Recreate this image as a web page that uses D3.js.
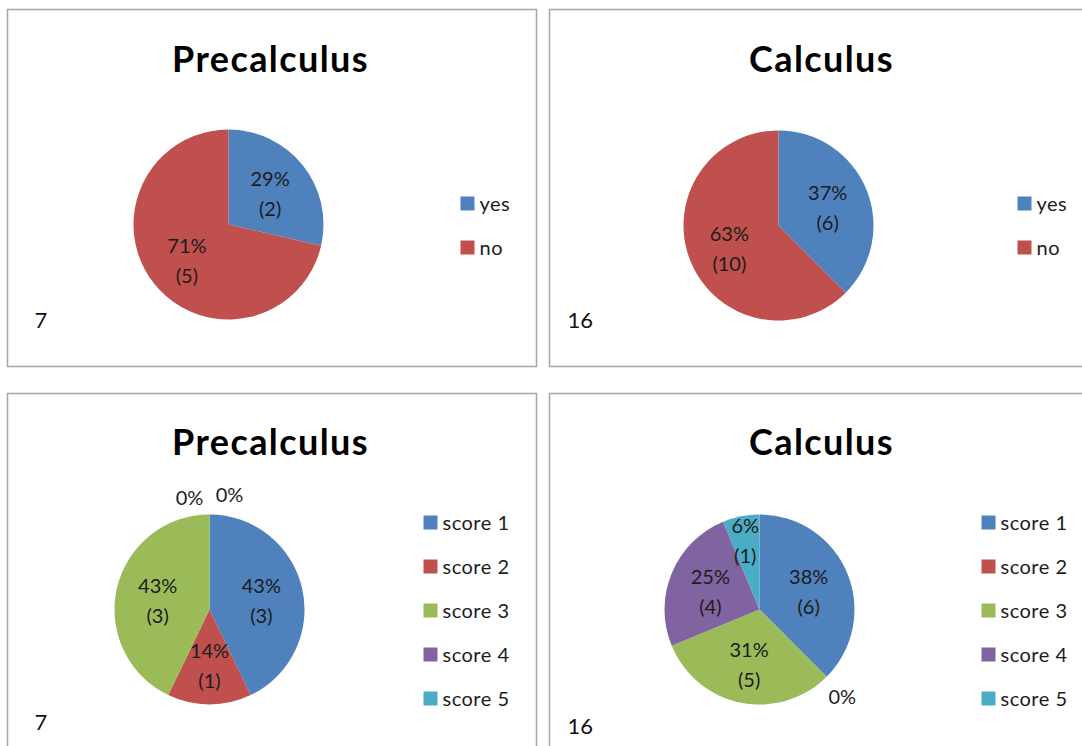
<!DOCTYPE html>
<html>
<head>
<meta charset="utf-8">
<script src="https://cdn.jsdelivr.net/npm/d3@7/dist/d3.min.js"></script>
<style>
  html, body { margin: 0; padding: 0; background: #ffffff; }
  svg { display: block; font-family: Lato, "Open Sans", sans-serif; }
</style>
</head>
<body>
<svg id="chart" width="1082" height="746"></svg>
<script>
// ---- data ----
const courseTitles = ["Precalculus", "Calculus"];
const yesNoCategories = ["yes", "no"];
const precalcYesNo = [2, 5];
const calcYesNo = [6, 10];
const scoreCategories = ["score 1", "score 2", "score 3", "score 4", "score 5"];
const precalcScores = [3, 1, 3, 0, 0];
const calcScores = [6, 0, 5, 4, 1];
const sliceColors = ["#4F81BD", "#C0504D", "#9BBB59", "#8064A2", "#4BACC6"];

// ---- layout of the four chart boxes ----
const panels = [
  { title: courseTitles[0], cats: yesNoCategories, values: precalcYesNo,
    box: [7.5, 9.5, 529, 357], pie: [221, 215], legend: [453, 194], titleX: 263, titleY: 62, nY: 318 },
  { title: courseTitles[1], cats: yesNoCategories, values: calcYesNo,
    box: [549.5, 9.5, 545, 357], pie: [229, 216], legend: [468, 194], titleX: 272, titleY: 62, nY: 318 },
  { title: courseTitles[0], cats: scoreCategories, values: precalcScores,
    box: [7.5, 393.5, 529, 370], pie: [202, 216], legend: [416, 129], titleX: 263, titleY: 61, nY: 336 },
  { title: courseTitles[1], cats: scoreCategories, values: calcScores,
    box: [549.5, 393.5, 545, 370], pie: [210, 216], legend: [432, 129], titleX: 272, titleY: 61, nY: 340 }
];

const R = 95;
const svg = d3.select("#chart");

// whole-percent labels that add up to 100 (largest remainder)
function percentLabels(values) {
  const total = d3.sum(values);
  const raw = values.map(v => v / total * 100);
  const out = raw.map(Math.floor);
  let left = 100 - d3.sum(out);
  const order = d3.range(values.length).sort((a, b) =>
    (raw[b] - out[b]) - (raw[a] - out[a]) || values[b] - values[a]);
  for (const i of order) { if (left <= 0) break; if (raw[i] - out[i] > 0) { out[i]++; left--; } }
  return out;
}

const pie = d3.pie().sort(null).value(d => d.value);
const arc = d3.arc().innerRadius(0).outerRadius(R);

panels.forEach(p => {
  const [bx, by, bw, bh] = p.box;
  const g = svg.append("g").attr("transform", `translate(${bx},${by})`);

  g.append("rect").attr("x", 0).attr("y", 0).attr("width", bw).attr("height", bh)
    .attr("fill", "#ffffff").attr("stroke", "#a6a6a6").attr("stroke-width", 1.5);

  g.append("text").attr("x", p.titleX).attr("y", p.titleY)
    .attr("text-anchor", "middle").attr("font-weight", 700).attr("font-size", 36)
    .attr("letter-spacing", 1.4).attr("fill", "#000").text(p.title);

  const total = d3.sum(p.values);
  const pct = percentLabels(p.values);
  const rows = p.cats.map((c, i) => ({ cat: c, value: p.values[i], pct: pct[i], color: sliceColors[i] }));
  const arcs = pie(rows);

  const pg = g.append("g").attr("transform", `translate(${p.pie[0]},${p.pie[1]})`);
  pg.selectAll("path").data(arcs.filter(a => a.data.value > 0)).join("path")
    .attr("d", arc).attr("fill", d => d.data.color);

  // labels inside non-empty slices
  arcs.filter(a => a.data.value > 0).forEach(a => {
    const f = a.data.value / total;
    const lr = R * (f < 0.1 ? 0.77 : 0.56);
    const m = (a.startAngle + a.endAngle) / 2;
    const x = Math.sin(m) * lr, y = -Math.cos(m) * lr;
    const t = pg.append("text").attr("text-anchor", "middle").attr("font-size", 20).attr("fill", "#1c1c1c");
    t.append("tspan").attr("x", x).attr("y", y - 5).text(a.data.pct + "%");
    t.append("tspan").attr("x", x).attr("y", y + 25).text("(" + a.data.value + ")");
  });

  // labels for empty slices sit just outside the rim
  const zeros = arcs.filter(a => a.data.value === 0);
  const byAngle = d3.group(zeros, a => a.startAngle.toFixed(4));
  byAngle.forEach(list => {
    list.forEach((a, k) => {
      const m = a.startAngle;
      const lr = R + 22;
      const spread = list.length > 1 ? (k - (list.length - 1) / 2) * 40 : 0;
      const x = Math.sin(m) * lr + spread, y = -Math.cos(m) * lr + 6 - (list.length > 1 ? k * 3 : 0);
      pg.append("text").attr("x", x).attr("y", y + 6).attr("text-anchor", "middle")
        .attr("font-size", 20).attr("fill", "#1c1c1c").text(a.data.pct + "%");
    });
  });

  // legend
  const lg = g.append("g").attr("transform", `translate(${p.legend[0]},${p.legend[1]})`);
  const item = lg.selectAll("g").data(rows).join("g")
    .attr("transform", (d, i) => `translate(0,${i * 44})`);
  item.append("rect").attr("x", 0).attr("y", -7).attr("width", 14).attr("height", 14)
    .attr("fill", d => d.color);
  item.append("text").attr("x", 19).attr("y", 7).attr("font-size", 20)
    .attr("letter-spacing", 0.5).attr("fill", "#1c1c1c").text(d => d.cat);

  // number of respondents
  g.append("text").attr("x", 27 + (bw > 535 ? -9 : 0)).attr("y", p.nY)
    .attr("font-size", 22).attr("fill", "#111").text(total);
});
</script>
</body>
</html>
